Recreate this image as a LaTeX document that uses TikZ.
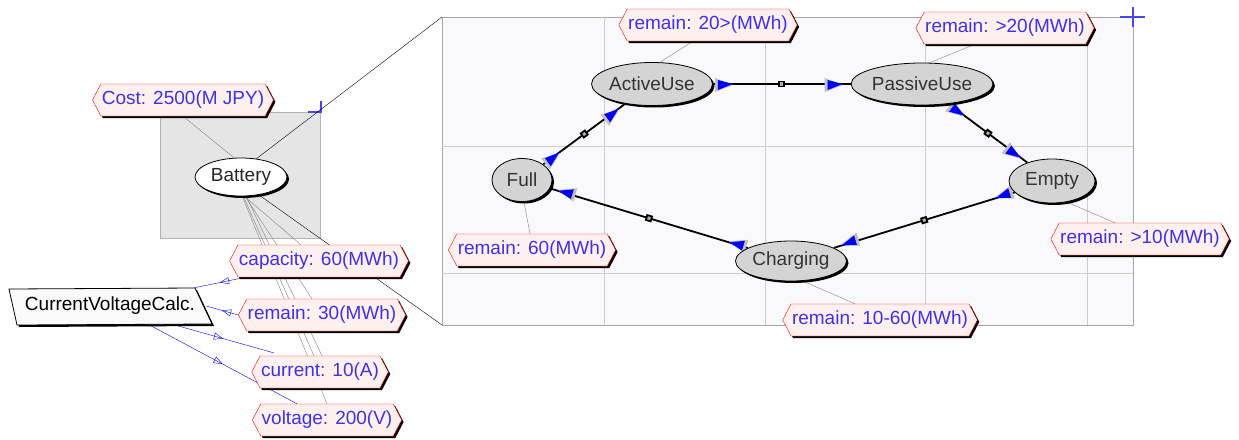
\documentclass[tikz,border=0pt]{standalone}
\usepackage{fontspec}
\setmainfont{Liberation Sans}
\usetikzlibrary{shapes.symbols,shapes.geometric,shadows,arrows.meta,decorations.markings,calc}
\pgfdeclarelayer{back}
\pgfdeclarelayer{bg}
\pgfsetlayers{back,bg,main}
\definecolor{lbltext}{RGB}{60,50,235}
\definecolor{lblfill}{RGB}{255,240,240}
\definecolor{boxfill}{RGB}{249,249,252}
\definecolor{crossblue}{RGB}{70,70,240}
\newcommand\arrtri{%
  \fill[black!25] (-12pt,-8pt) -- (6pt,-1pt) -- (-12pt,6pt) -- cycle;
  \fill[blue] (-9pt,-6pt) -- (6pt,0pt) -- (-9pt,4pt) -- cycle;}
\tikzset{
  shad/.style={general shadow={fill=black, shadow xshift=2pt, shadow yshift=-2pt}},
  lbl/.style={shape=signal, signal to=west and east, signal pointer angle=125,
    draw=red, fill=lblfill, text=lbltext, minimum height=32pt, inner xsep=1pt, inner ysep=2pt,
    font=\fontsize{19}{21}\selectfont, shad},
  st/.style={ellipse, draw=black, thick, fill=black!17, text=black!80, inner sep=0pt,
    font=\fontsize{19}{21}\selectfont, shad},
  midsq/.style={draw=black, fill=gray!60, minimum size=5pt, inner sep=0pt, sloped},
  edge/.style={line width=1.8pt, black, postaction={decorate},
    decoration={markings, mark=at position 14pt with {\arrtri}, mark=at position -14pt with {\arrtri}}},
  note/.style={gray, thin},
  flow/.style={blue, thin, postaction={decorate},
    decoration={markings, mark=at position 0.5 with {\arrow{Triangle[open, length=9pt, width=7pt]}}}},
  cross/.style={crossblue, line width=1.2pt},
}
\begin{document}
\begin{tikzpicture}[x=1pt, y=-1pt]
\useasboundingbox (0,0) rectangle (1239,439);
% background panels
\begin{pgfonlayer}{back}
  \fill[white] (0,0) rectangle (1239,439);
  \draw[gray!60, fill=black!10] (160,112) rectangle (320,238);
  \draw[gray!70, line width=1pt, fill=boxfill] (442,17) rectangle (1133,325);
  \foreach \gx in {604,765,925,1087} \draw[gray!40, line width=0.8pt] (\gx,17) -- (\gx,325);
  \foreach \gy in {146,273} \draw[gray!40, line width=0.8pt] (442,\gy) -- (1133,\gy);
  \draw[cross] (1120,17) -- (1145,17) (1133,7) -- (1133,27);
  \draw[cross] (308,112) -- (321,112) (321,101) -- (321,113);
\end{pgfonlayer}
\coordinate (boxtl) at (442,17);
\coordinate (boxbl) at (442,325);

% left part
\node[ellipse, draw=black, thick, fill=white, text=black!85, minimum width=92pt, minimum height=38pt,
  inner sep=0pt, font=\fontsize{19}{21}\selectfont, shad] (Battery) at (241,177) {Battery};
% CurrentVoltageCalc parallelogram
\fill[black] (11,291) -- (197,290) -- (214,326) -- (19,327) -- cycle;
\draw[black, thick, fill=black!2] (9,289) -- (195,288) -- (212,324) -- (17,325) -- cycle;
\node[inner sep=0pt, minimum width=196pt, minimum height=36pt, text=black,
  font=\fontsize{19}{21}\selectfont] (CVC) at (110,306) {CurrentVoltageCalc.};
\node[lbl] (Cost) at (183,100) {Cost: 2500(M JPY)};
\node[lbl] (capacity) at (319,261) {capacity: 60(MWh)};
\node[lbl] (remainL) at (322,315) {remain: 30(MWh)};
\node[lbl] (current) at (320,372) {current: 10(A)};
\node[lbl] (voltage) at (327,420) {voltage: 200(V)};

% state machine
\node[st, minimum width=119pt, minimum height=43pt] (ActiveUse) at (652,84) {ActiveUse};
\node[st, minimum width=135pt, minimum height=42pt] (PassiveUse) at (922,84) {PassiveUse};
\node[st, minimum width=60pt, minimum height=43pt] (Full) at (522,180) {Full};
\node[st, minimum width=86pt, minimum height=44pt] (Empty) at (1052,181) {Empty};
\node[st, minimum width=111pt, minimum height=40pt] (Charging) at (791,261) {Charging};

\node[lbl] (rA) at (708,25) {remain: 20>(MWh)};
\node[lbl] (rP) at (1005,28) {remain: >20(MWh)};
\node[lbl] (rF) at (532,250) {remain: 60(MWh)};
\node[lbl] (rE) at (1140,239) {remain: >10(MWh)};
\node[lbl] (rC) at (880,320) {remain: 10-60(MWh)};

\begin{pgfonlayer}{bg}
  % zoom lines
  \draw[black, thin] (Battery.50) -- (boxtl);
  \draw[black, thin] (Battery.-45) -- (boxbl);
  % annotation lines
  \draw[note] (Cost.south) -- (Battery.110);
  \draw[note] (Battery.-80) -- ($(capacity.north)+(-18,0)$);
  \draw[note] (Battery.-78) -- ($(remainL.north)+(-10,0)$);
  \draw[note] (Battery.-83) -- ($(current.north)+(-6,0)$);
  \draw[note] (Battery.-86) -- (voltage.north);
  \draw[note] (Battery.-75) -- ($(current.north)+(2,0)$);
  \draw[note] (ActiveUse.70) -- ($(rA.south)+(-15,0)$);
  \draw[note] (PassiveUse.70) -- ($(rP.south)+(-30,0)$);
  \draw[note] (Full.-85) -- ($(rF.north)+(-2,0)$);
  \draw[note] (Empty.-55) -- ($(rE.north)+(-25,0)$);
  \draw[note] (Charging.-60) -- ($(rC.north)+(-25,0)$);
  % flows
  \draw[flow] ($(capacity.south west)+(8,0)$) -- ($(CVC.north east)+(-14,0)$);
  \draw[flow] (remainL.west) -- ($(CVC.east)+(-2,0)$);
  \draw[flow] ($(CVC.south)+(62,0)$) -- ($(current.north west)+(14,-3)$);
  \draw[flow] ($(CVC.south)+(38,0)$) -- ($(voltage.north)+(-30,0)$);
  % transitions
  \draw[edge] (Full) -- (ActiveUse) node[midsq, pos=0.5]{};
  \draw[edge] (ActiveUse) -- (PassiveUse) node[midsq, pos=0.5]{};
  \draw[edge] (PassiveUse) -- (Empty) node[midsq, pos=0.5]{};
  \draw[edge] (Empty) -- (Charging) node[midsq, pos=0.5]{};
  \draw[edge] (Charging) -- (Full) node[midsq, pos=0.5]{};
\end{pgfonlayer}
\end{tikzpicture}
\end{document}
